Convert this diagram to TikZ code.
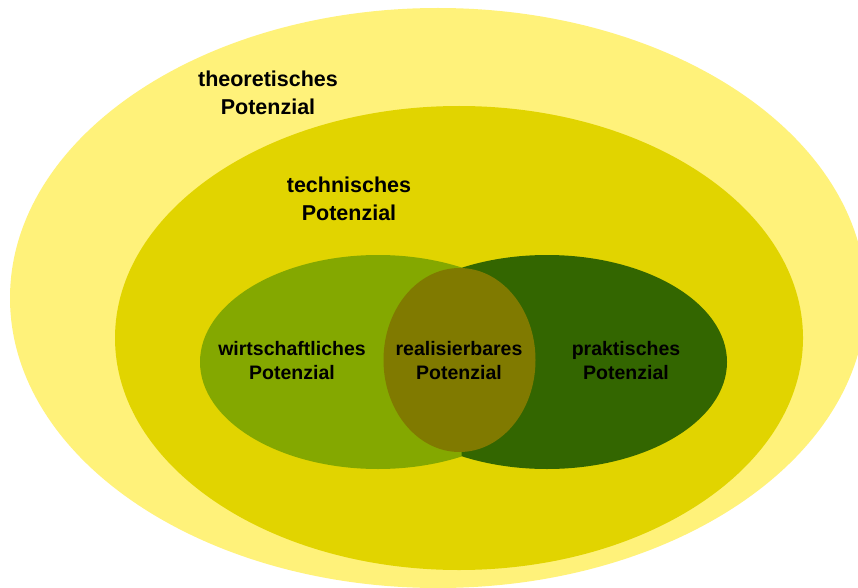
\documentclass[tikz,border=0pt]{standalone}
\usepackage{fontspec}
\setmainfont{Liberation Sans}
\definecolor{theoyellow}{RGB}{255,242,122}
\definecolor{techyellow}{RGB}{225,212,0}
\definecolor{econgreen}{RGB}{132,168,0}
\definecolor{practgreen}{RGB}{51,102,0}
\definecolor{realbrown}{RGB}{128,122,0}
\tikzset{
  biglabel/.style={align=center, inner sep=0pt, font=\fontsize{21.5}{28}\selectfont\bfseries, text=black},
  smalllabel/.style={align=center, inner sep=0pt, font=\fontsize{19.5}{23.5}\selectfont\bfseries, text=black}
}
\begin{document}
\begin{tikzpicture}[x=1pt,y=-1pt]
\useasboundingbox (0,0) rectangle (858,588);
\clip (0,0) rectangle (858,588);
\fill[white] (0,0) rectangle (858,588);
% theoretical
\fill[theoyellow] (438,298) ellipse [x radius=428pt, y radius=290pt];
% technical
\fill[techyellow] (459,338) ellipse [x radius=344pt, y radius=232pt];
% practical (full), economic (left half only)
\fill[practgreen] (547,362) ellipse [x radius=180pt, y radius=107pt];
\begin{scope}
  \clip (0,0) rectangle (461.5,588);
  \fill[econgreen] (378,362) ellipse [x radius=178pt, y radius=107pt];
\end{scope}
% realisable
\fill[realbrown] (459.5,360) ellipse [x radius=76pt, y radius=92pt];
% labels
\node[biglabel] (theo) at (268,93) {theoretisches\\Potenzial};
\node[biglabel] (tech) at (349,199) {technisches\\Potenzial};
\node[smalllabel] (econ) at (292,360.5) {wirtschaftliches\\Potenzial};
\node[smalllabel] (real) at (459,360.5) {realisierbares\\Potenzial};
\node[smalllabel] (pract) at (626,360.5) {praktisches\\Potenzial};
\end{tikzpicture}
\end{document}
